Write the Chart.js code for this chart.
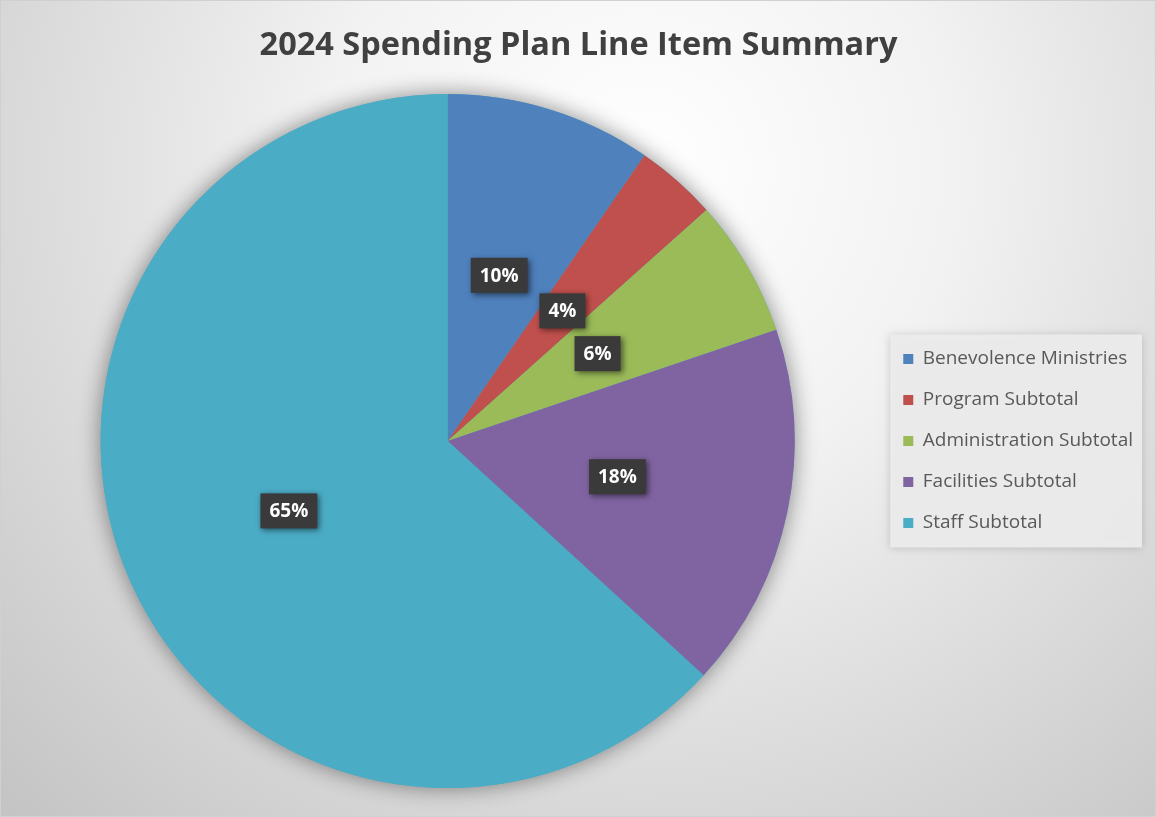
<!DOCTYPE html>
<html>
<head>
<meta charset="utf-8">
<title>2024 Spending Plan Line Item Summary</title>
<script src="https://cdn.jsdelivr.net/npm/chart.js@4.4.1/dist/chart.umd.min.js"></script>
<style>
    html, body { margin: 0; padding: 0; background: #ffffff; }
    #wrap { width: 1156px; height: 817px; position: relative; }
</style>
</head>
<body>
<div id="wrap"><canvas id="spendingPie"></canvas></div>
<script>
const categories = [
    "Benevolence Ministries",
    "Program Subtotal",
    "Administration Subtotal",
    "Facilities Subtotal",
    "Staff Subtotal",
];
// slice sizes as they are drawn in the picture
const shares = [9.6, 3.8, 6.4, 17.0, 63.2];
// percentage labels as printed on the slices
const pctLabels = ["10%", "4%", "6%", "18%", "65%"];
const sliceColors = ["#4f81bd", "#c0504d", "#9bbb59", "#8064a2", "#4bacc6"];

const backdrop = {
    id: "backdrop",
    beforeDraw(chart) {
        const { ctx, width, height } = chart;
        ctx.save();
        const g = ctx.createRadialGradient(640, 170, 0, 640, 170, 900);
        g.addColorStop(0, "#ffffff");
        g.addColorStop(0.35, "#f2f2f2");
        g.addColorStop(1, "#c4c4c4");
        ctx.fillStyle = g;
        ctx.fillRect(0, 0, width, height);
        ctx.strokeStyle = "#d0d0d0";
        ctx.lineWidth = 1;
        ctx.strokeRect(0.5, 0.5, width - 1, height - 1);

        // legend panel
        const boxes = chart.legend.legendHitBoxes;
        if (boxes && boxes.length) {
            const left = Math.min(...boxes.map(b => b.left)) - 13;
            const top = boxes[0].top - 15;
            const last = boxes[boxes.length - 1];
            const right = Math.max(...boxes.map(b => b.left + b.width)) + 9;
            const bottom = last.top + last.height + 15;
            ctx.shadowColor = "rgba(0,0,0,0.18)";
            ctx.shadowBlur = 8;
            ctx.fillStyle = "rgba(236,236,236,0.95)";
            ctx.fillRect(left, top, right - left, bottom - top);
        }
        ctx.restore();
    },
};

const pieShadow = {
    id: "pieShadow",
    beforeDatasetsDraw(chart) {
        const arc = chart.getDatasetMeta(0).data[0];
        if (!arc) return;
        const { ctx } = chart;
        ctx.save();
        ctx.shadowColor = "rgba(0,0,0,0.45)";
        ctx.shadowBlur = 22;
        ctx.fillStyle = sliceColors[4];
        ctx.beginPath();
        ctx.arc(arc.x, arc.y, arc.outerRadius, 0, Math.PI * 2);
        ctx.fill();
        ctx.restore();
    },
};

const sliceLabels = {
    id: "sliceLabels",
    afterDatasetsDraw(chart) {
        const { ctx } = chart;
        ctx.save();
        ctx.font = "bold 19px 'Open Sans'";
        ctx.textAlign = "center";
        ctx.textBaseline = "middle";
        chart.getDatasetMeta(0).data.forEach((arc, i) => {
            const p = arc.tooltipPosition();
            const w = ctx.measureText(pctLabels[i]).width + 18;
            const h = 35;
            ctx.save();
            ctx.shadowColor = "rgba(0,0,0,0.55)";
            ctx.shadowBlur = 6;
            ctx.shadowOffsetX = 2;
            ctx.shadowOffsetY = 2;
            ctx.fillStyle = "#3a3a3a";
            ctx.fillRect(p.x - w / 2, p.y - h / 2, w, h);
            ctx.restore();
            ctx.fillStyle = "#ffffff";
            ctx.fillText(pctLabels[i], p.x, p.y + 1);
        });
        ctx.restore();
    },
};

new Chart(document.getElementById("spendingPie"), {
    type: "pie",
    data: {
        labels: categories,
        datasets: [
            {
                data: shares,
                backgroundColor: sliceColors,
                borderWidth: 0,
            },
        ],
    },
    options: {
        responsive: true,
        maintainAspectRatio: false,
        animation: false,
        layout: {
            padding: { left: 14, right: 13, top: 10, bottom: 29 },
        },
        plugins: {
            title: {
                display: true,
                text: "2024 Spending Plan Line Item Summary",
                color: "#404040",
                font: { family: "'Open Sans'", size: 32.5, weight: "bold" },
                padding: { top: 16, bottom: 29 },
            },
            legend: {
                position: "right",
                fullSize: false,
                labels: {
                    color: "#595959",
                    font: { family: "'Open Sans'", size: 19 },
                    boxWidth: 10,
                    boxHeight: 10,
                    padding: 22,
                },
            },
            tooltip: { enabled: false },
        },
    },
    plugins: [backdrop, pieShadow, sliceLabels],
});
</script>
</body>
</html>
